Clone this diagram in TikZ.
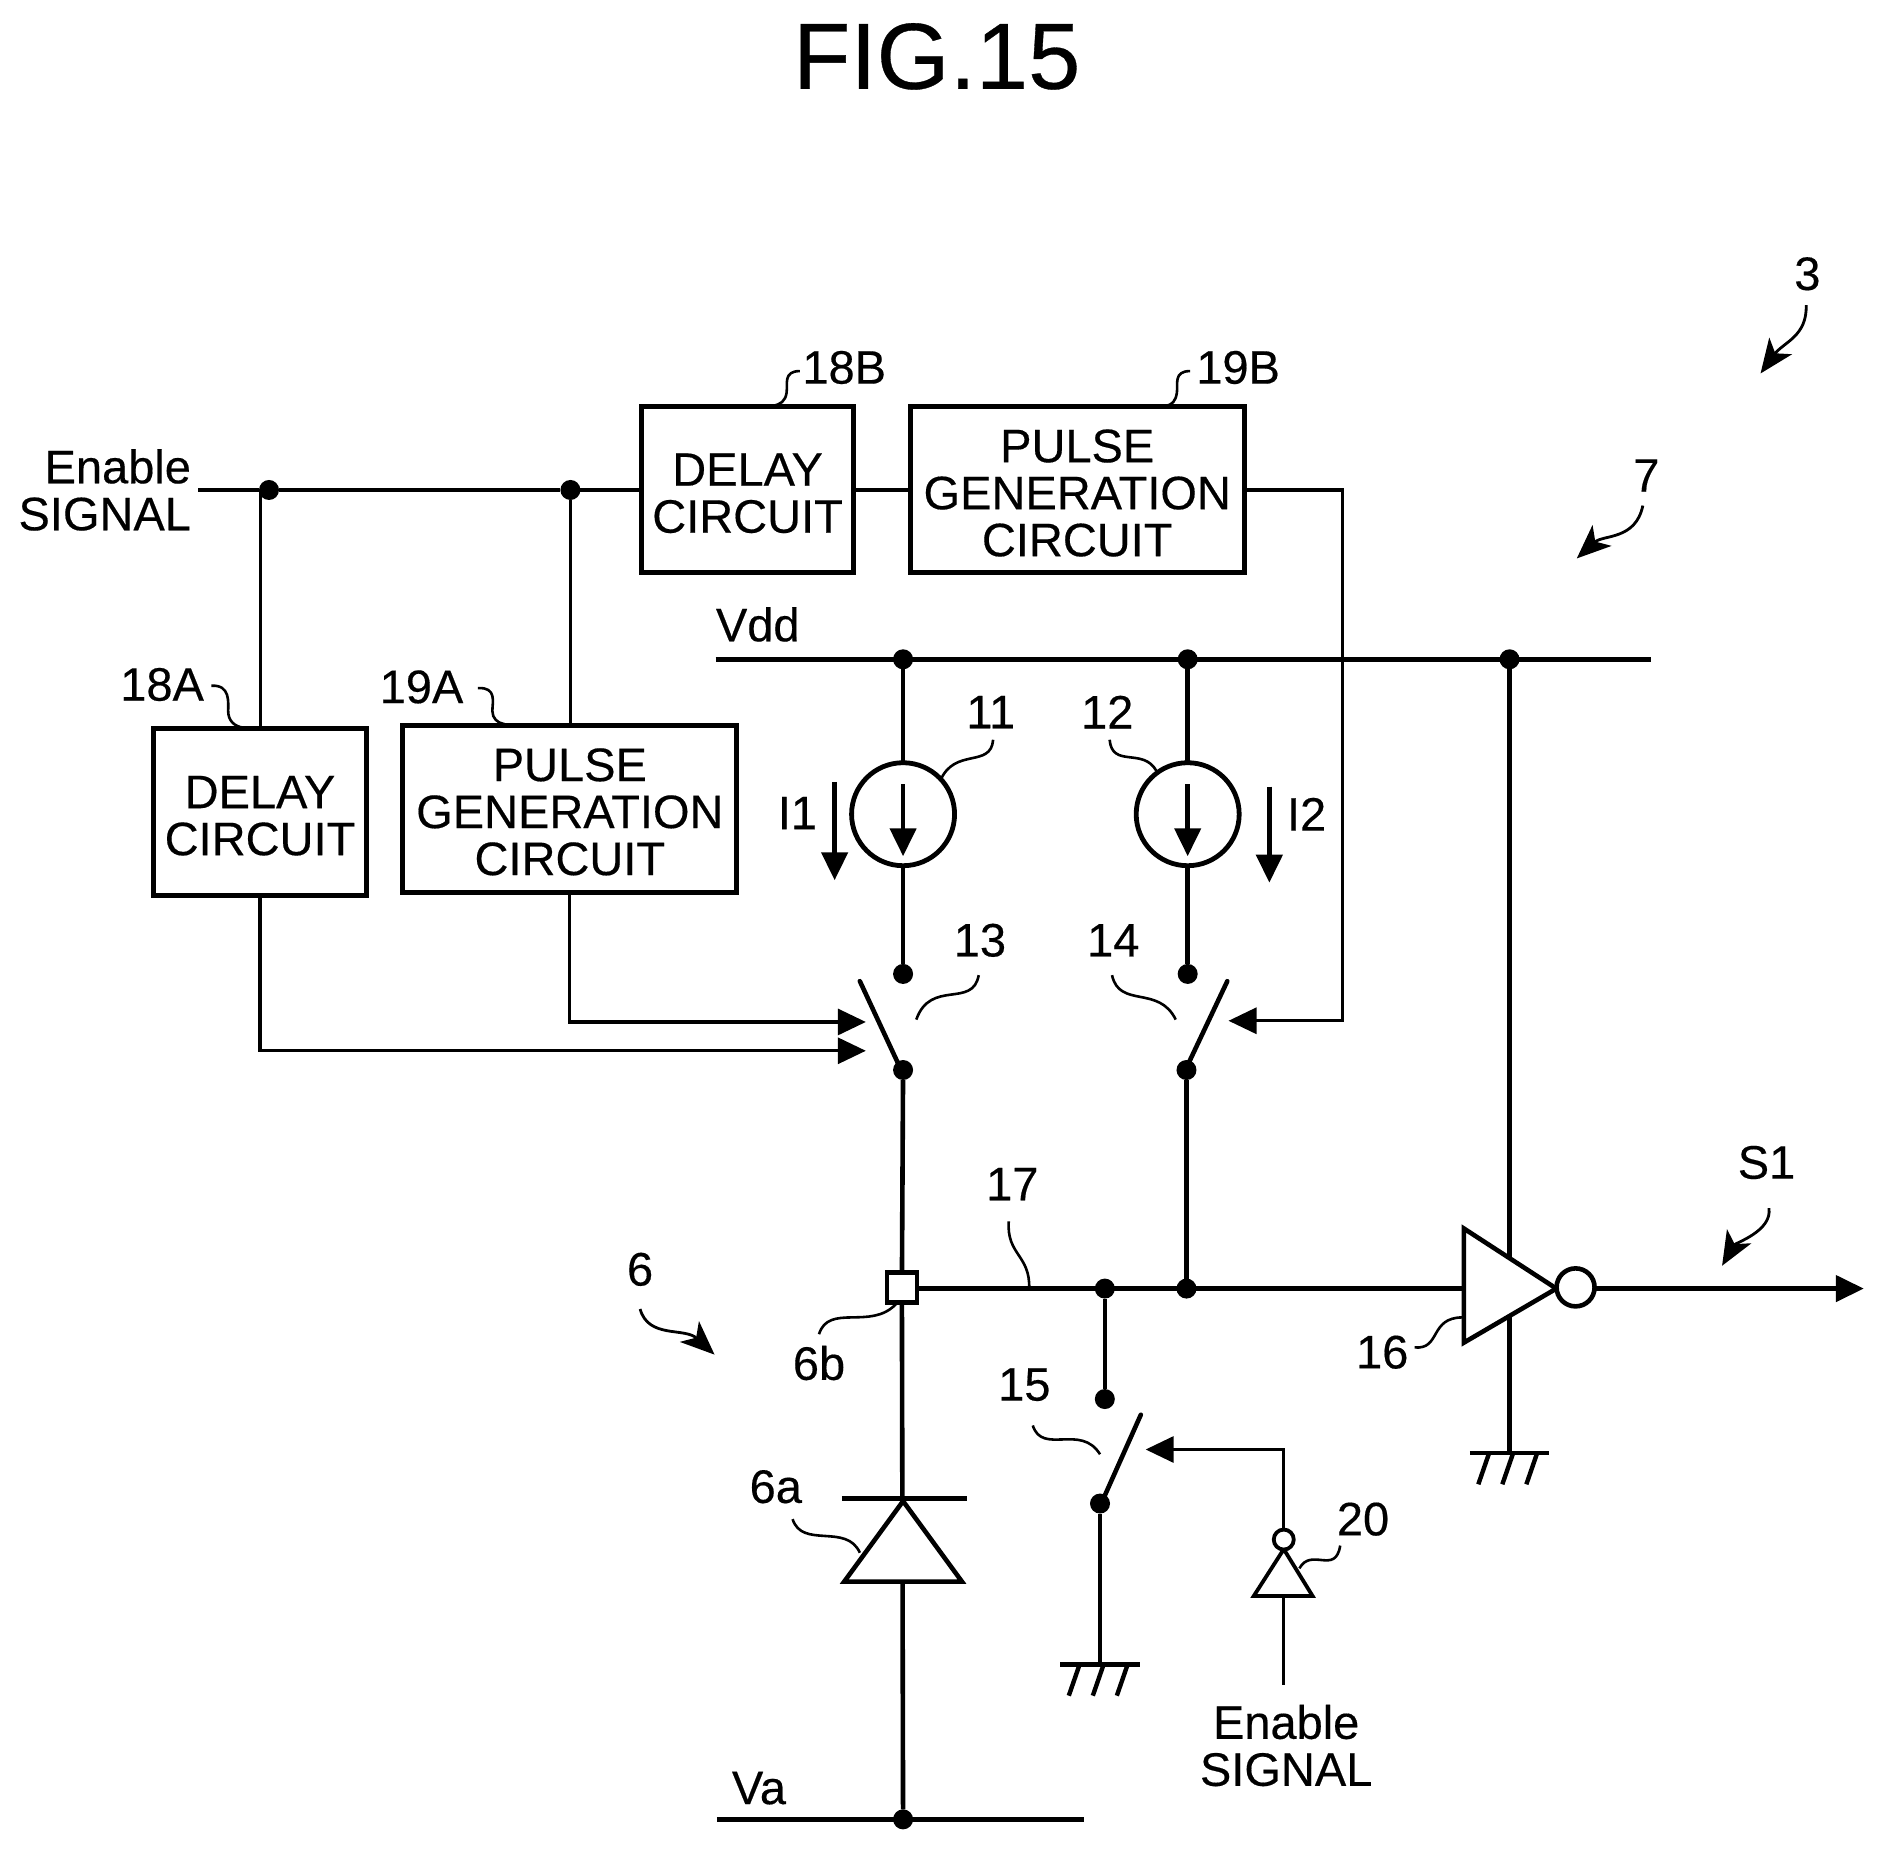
\documentclass[tikz,border=0pt]{standalone}
\usepackage{fontspec}
\setmainfont{Liberation Sans}[FakeBold=0.35]
\usetikzlibrary{arrows.meta,calc}
\newcommand{\pushd}{\rule{0pt}{39pt}}
\tikzset{
  wire/.style={line width=3.2pt},
  power/.style={line width=4.6pt},
  boxn/.style={draw,line width=5pt,inner sep=0pt,outer sep=0pt,align=center,font=\fontsize{47}{47}\selectfont},
  lbl/.style={inner sep=0pt,outer sep=0pt,font=\fontsize{47}{47}\selectfont},
  multi/.style={lbl,align=center},
  dot/.style={circle,fill=black,draw=none,minimum size=20pt,inner sep=0pt,outer sep=0pt},
  bubble/.style={circle,draw,fill=white,inner sep=0pt,outer sep=0pt},
  lead/.style={line width=2.6pt},
  tip/.style={-{Triangle[length=28pt,width=26pt]}},
  reftip/.style={-{Stealth[length=34pt,width=28pt,inset=9pt]},line width=2.8pt},
  lever/.style={line width=4.6pt,line cap=round},
  gnd/.style={line width=4.4pt}
}
\newcommand{\grd}[1]{%
  \draw[gnd] ($(#1)+(-33,0)$) -- ($(#1)+(33,0)$);
  \draw[gnd] ($(#1)+(-17,0)$) -- ($(#1)+(-26,26)$);
  \draw[gnd] ($(#1)+(3,0)$) -- ($(#1)+(-6,26)$);
  \draw[gnd] ($(#1)+(23,0)$) -- ($(#1)+(14,26)$);
}
\begin{document}
\begin{tikzpicture}[x=1.2009pt,y=-1.2009pt]
\useasboundingbox (0,0) rectangle (1568,1541.4);
\node[inner sep=0pt,font=\fontsize{94}{94}\selectfont] (title) at (780,47) {FIG.15};

% blocks
\node[boxn,minimum width=212.6pt,minimum height=167pt] (dA) at (216.5,676.5) {\pushd DELAY\\CIRCUIT};
\node[boxn,minimum width=333.9pt,minimum height=167pt] (pA) at (474.5,673.5) {\pushd PULSE\\GENERATION\\CIRCUIT};
\node[boxn,minimum width=212.6pt,minimum height=166pt] (dB) at (622.5,408) {\pushd DELAY\\CIRCUIT};
\node[boxn,minimum width=333.9pt,minimum height=166pt] (pB) at (897,408) {\pushd PULSE\\GENERATION\\CIRCUIT};

% junctions and terminals
\coordinate (enS) at (165,408);
\node[dot] (j1) at (224,408) {};
\node[dot] (j2) at (475,408) {};
\coordinate (v1) at (217,408);
\coordinate (vddL) at (596,549);
\coordinate (vddR) at (1375,549);
\node[dot] (jv1) at (752,549) {};
\node[dot] (jv2) at (989,549) {};
\node[dot] (jv3) at (1257,549) {};
\node[dot] (s13t) at (752,811) {};
\node[dot] (s13b) at (752,891) {};
\node[dot] (s14t) at (989,811) {};
\node[dot] (s14b) at (988,891) {};
\node[dot] (j15) at (920,1073) {};
\node[dot] (j14) at (988,1073) {};
\node[dot] (s15t) at (920,1165) {};
\node[dot] (s15b) at (916,1252) {};
\node[dot] (jva) at (752,1515) {};
\coordinate (vaL) at (597,1515);
\coordinate (vaR) at (903,1515);
\coordinate (g15) at (916,1386);
\coordinate (g16) at (1257,1210);
\coordinate (sq) at (751,1072);
\coordinate (out) at (1552,1073);

% coordinates of switch levers
\coordinate (l13a) at (716,817); \coordinate (l13b) at (749,888);
\coordinate (l14a) at (1022,817); \coordinate (l14b) at (988,889);
\coordinate (l15a) at (950,1178); \coordinate (l15b) at (917,1252);
\coordinate (a13p) at (721,851); \coordinate (a13d) at (721,875);
\coordinate (a14) at (1023,850);
\coordinate (a15) at (954,1207);
\coordinate (i20t) at (1069,1290);
\coordinate (i20l) at (1044,1329);
\coordinate (i20r) at (1093,1329);
\coordinate (i20m) at (1069,1329);
\coordinate (i20in) at (1069,1403);
\coordinate (i16a) at (1219,1023);
\coordinate (i16b) at (1219,1118);
\coordinate (i16c) at (1296,1073);
\coordinate (i16in) at (1219,1073);

% wires
\draw[wire] (enS) -- (j1) -- (j2) -- (dB.west);
\draw[wire] (v1) -- (v1 |- dA.north);
\draw[wire] (j2) -- (j2 |- pA.north);
\draw[wire] (dB.east) -- (pB.west);
\draw[wire,tip] (dA.south) |- (a13d);
\draw[wire,tip] (pA.south) |- (a13p);
\draw[wire,tip] (pB.east) -| (1118,850) -- (a14);
\draw[power] (vddL) -- (vddR);
\draw[power] (jv1) -- (s13t);
\draw[power] (jv2) -- (s14t);
\draw[power] (jv3) -- (g16);
\draw[power] (s13b) -- (sq);
\draw[power] (s14b) -- (j14);
\draw[power] (sq) -- (jva);
\draw[power] (sq |- i16in) -- (i16in);
\draw[power] (j15) -- (s15t);
\draw[power] (s15b) -- (g15);
\draw[power] (vaL) -- (vaR);
\draw[wire,tip] (1069,1275) -- (1069,1207) -- (a15);
\draw[wire] (i20m) -- (i20in);
\draw[power,tip] (i16c) -- (out);

% switches
\draw[lever] (l13a) -- (l13b);
\draw[lever] (l14a) -- (l14b);
\draw[lever] (l15a) -- (l15b);

% current sources
\node[bubble,line width=4.8pt,minimum size=103pt] (cs1) at (752,678) {};
\node[bubble,line width=4.8pt,minimum size=103pt] (cs2) at (989,678) {};
\draw[power,tip] (752,653) -- (752,713);
\draw[power,tip] (989,653) -- (989,713);
\draw[power,tip] (695,651) -- (695,733);
\draw[power,tip] (1057,655) -- (1057,735);

% square terminal
\node[draw,fill=white,line width=4.6pt,minimum size=30pt,inner sep=0pt,outer sep=0pt] (t6b) at (sq) {};

% diode
\coordinate (dTop) at (752,1250);
\coordinate (dL) at (703,1317);
\coordinate (dR) at (801,1317);
\draw[power,fill=white,line join=miter] (dTop) -- (dL) -- (dR) -- cycle;
\draw[power] (701,1248) -- (805,1248);

% inverters
\draw[power,fill=white] (i16a) -- (i16c) -- (i16b) -- cycle;
\node[bubble,line width=4.6pt,minimum size=38pt] (b16) at (1312,1072) {};
\draw[wire,line width=3.8pt,fill=white] (i20t) -- (i20l) -- (i20r) -- cycle;
\node[bubble,line width=3.8pt,minimum size=20pt] (b20) at (1069,1282) {};

% grounds
\grd{g15}
\grd{g16}

% labels
\node[lbl,align=right,anchor=east] (en1) at (159,408) {Enable\\SIGNAL};
\node[multi] (en2) at (1071,1453.5) {Enable\\SIGNAL};
\node[lbl] (n18A) at (135,570) {18A};
\node[lbl] (n19A) at (351,572) {19A};
\node[lbl] (n18B) at (703,306) {18B};
\node[lbl] (n19B) at (1031,306) {19B};
\node[lbl] (n3) at (1505,228) {3};
\node[lbl] (n7) at (1371,396) {7};
\node[lbl] (nVdd) at (631,520) {Vdd};
\node[lbl] (n11) at (825,593) {11};
\node[lbl] (n12) at (922,593) {12};
\node[lbl] (nI1) at (664,677) {I1};
\node[lbl] (nI2) at (1088,678) {I2};
\node[lbl] (n13) at (816,783) {13};
\node[lbl] (n14) at (927,783) {14};
\node[lbl] (n17) at (843,986) {17};
\node[lbl] (nS1) at (1471,968) {S1};
\node[lbl] (n6) at (533,1057) {6};
\node[lbl] (n6b) at (682,1135) {6b};
\node[lbl] (n16) at (1151,1126) {16};
\node[lbl] (n15) at (853,1153) {15};
\node[lbl] (n6a) at (646,1238) {6a};
\node[lbl] (n20) at (1135,1265) {20};
\node[lbl] (nVa) at (632,1489) {Va};

% leaders
\draw[lead] (176,571) .. controls (192,570) and (190,585) .. (190,592) .. controls (190,600) and (195,605) .. (203,606);
\draw[lead] (398,573) .. controls (414,572) and (410,585) .. (410,592) .. controls (410,598) and (414,602) .. (420,603);
\draw[lead] (666,309) .. controls (652,309) and (656,320) .. (655,327) .. controls (654,334) and (650,337) .. (643,338);
\draw[lead] (991,309) .. controls (977,309) and (981,320) .. (980,327) .. controls (979,334) and (976,337) .. (971,338);
\draw[lead] (827,616) .. controls (825,640) and (795,622) .. (783,650);
\draw[lead] (924,616) .. controls (926,640) and (952,622) .. (963,642);
\draw[lead] (815,812) .. controls (810,840) and (775,815) .. (763,849);
\draw[lead] (926,812) .. controls (932,840) and (965,820) .. (979,849);
\draw[lead] (840,1017) .. controls (838,1045) and (858,1045) .. (857,1073);
\draw[lead] (682,1111) .. controls (690,1085) and (725,1108) .. (746,1086);
\draw[lead] (1178,1122) .. controls (1200,1124) and (1190,1097) .. (1218,1097);
\draw[lead] (860,1187) .. controls (868,1212) and (900,1185) .. (916,1211);
\draw[lead] (660,1265) .. controls (668,1290) and (705,1268) .. (716,1293);
\draw[lead] (1116,1287) .. controls (1112,1312) and (1092,1288) .. (1082,1306);

% reference arrows
\draw[reftip] (1504,254) .. controls (1505,280) and (1485,285) .. (1466,311);
\draw[reftip] (1368,421) .. controls (1362,450) and (1335,445) .. (1313,465);
\draw[reftip] (1473,1006) .. controls (1476,1025) and (1445,1035) .. (1434,1054);
\draw[reftip] (533,1090) .. controls (540,1115) and (570,1105) .. (595,1128);
\end{tikzpicture}
\end{document}
